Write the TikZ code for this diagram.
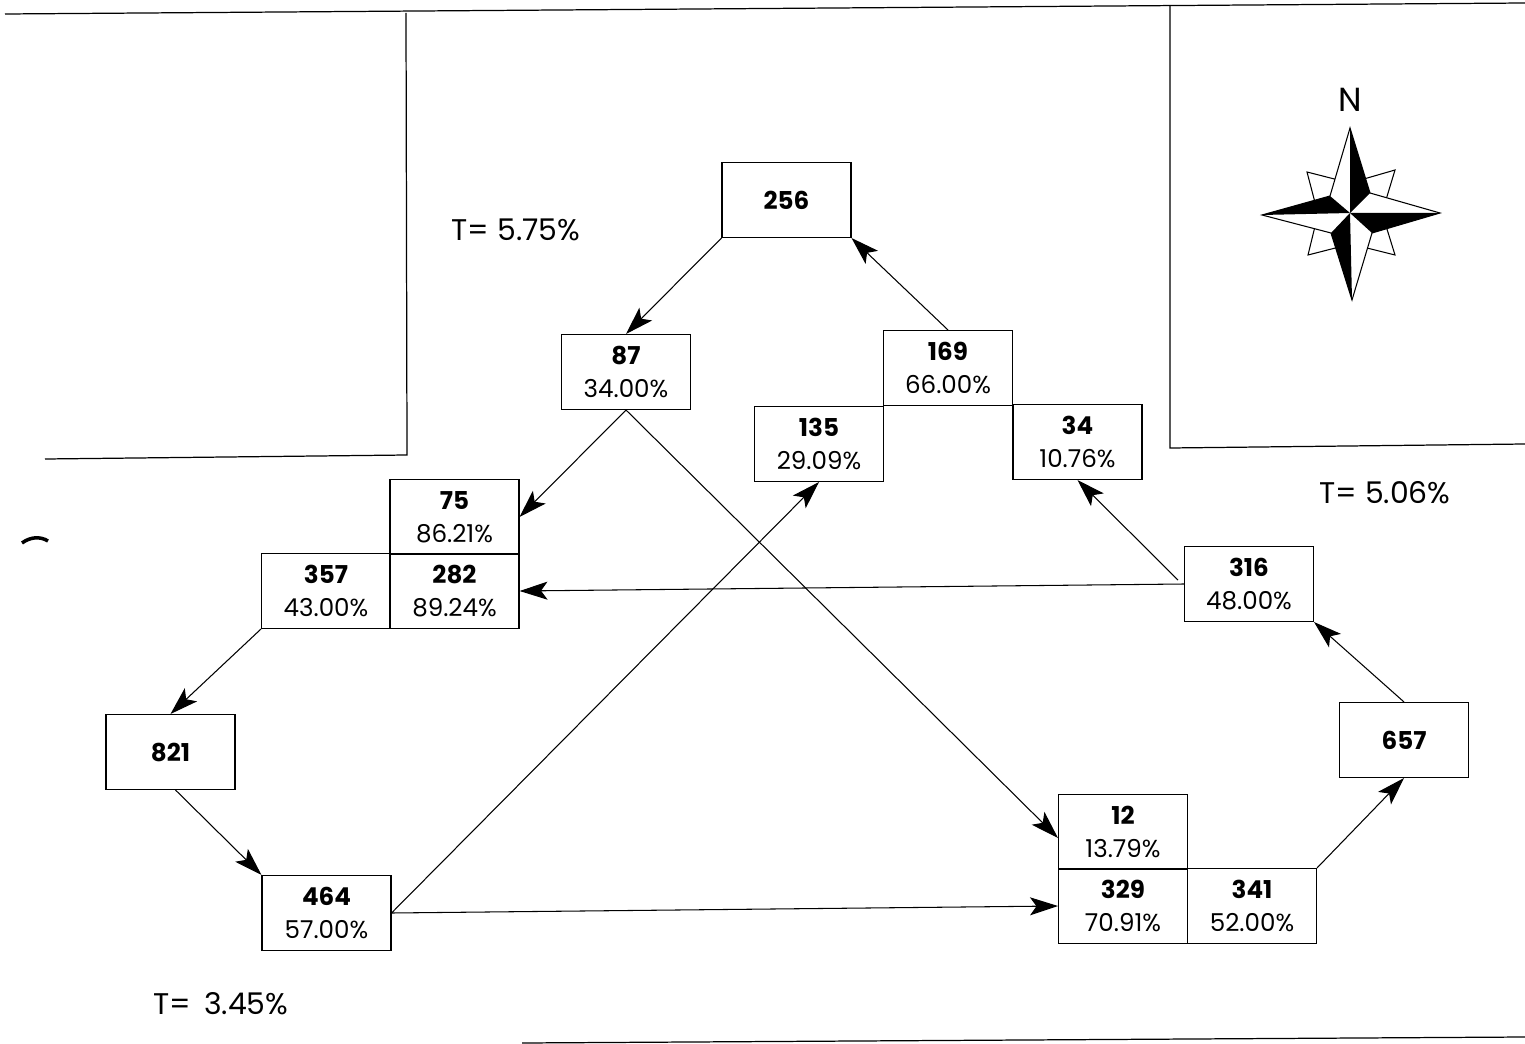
\documentclass[tikz,border=0pt]{standalone}
\usepackage{fontspec}
\setmainfont{Poppins}
\usepackage{tikz}
\usetikzlibrary{arrows.meta,calc}
\tikzset{
  cell/.style={draw,line width=0.6pt,minimum width=2.58cm,minimum height=1.5cm,
    inner sep=0pt,align=center,font=\fontsize{14}{18.8}\selectfont},
  flow/.style={line width=0.6pt,-{Stealth[length=0.56cm,width=0.36cm,inset=0.13cm]}},
  frame/.style={line width=0.7pt},
  tlab/.style={font=\fontsize{17}{20}\selectfont}
}
\begin{document}
\begin{tikzpicture}[x=0.02cm,y=-0.02cm]
  \useasboundingbox (0,0) rectangle (1525,1044);
  \draw[frame] (5,14) -- (1525,3);
  \draw[frame] (406,13) -- (407,455) -- (45,459);
  \draw[frame] (1170,6) -- (1170,448) -- (1525,444);
  \draw[frame] (522,1043) -- (1525,1037);
  \draw[line width=2pt] (22,543) .. controls (30,537) and (40,536) .. (48,541);

  \node[cell] (b256) at (786.5,200) {\textbf{256}};
  \node[cell] (n87) at (626,372) {\textbf{87}\\34.00\%};
  \node[cell] (n169) at (948,368) {\textbf{169}\\66.00\%};
  \node[cell] (n135) at (819,444) {\textbf{135}\\29.09\%};
  \node[cell] (n34) at (1077.5,442) {\textbf{34}\\10.76\%};
  \node[cell] (n75) at (454.5,517) {\textbf{75}\\86.21\%};
  \node[cell] (n357) at (326,591) {\textbf{357}\\43.00\%};
  \node[cell] (n282) at (454.5,591) {\textbf{282}\\89.24\%};
  \node[cell] (b821) at (170.5,752) {\textbf{821}};
  \node[cell] (n464) at (326.5,913) {\textbf{464}\\57.00\%};
  \node[cell] (n12) at (1123,832) {\textbf{12}\\13.79\%};
  \node[cell] (n329) at (1123,906) {\textbf{329}\\70.91\%};
  \node[cell] (n341) at (1252,906) {\textbf{341}\\52.00\%};
  \node[cell] (n316) at (1249,584) {\textbf{316}\\48.00\%};
  \node[cell] (b657) at (1404,740) {\textbf{657}};

  \node[tlab] (tnw) at (516,230) {T= 5.75\%};
  \node[tlab] (tne) at (1385,493) {T= 5.06\%};
  \node[tlab] (tsw) at (221,1004) {T=\, 3.45\%};

  \draw[flow] (b256.south west) -- (n87.north);
  \draw[flow] (n169.north) -- (b256.south east);
  \draw[flow] (n87.south) -- (n75.east);
  \draw[flow] (n87.south) -- ($(n12.west)+(0,6)$);
  \draw[flow] (n316.west) -- (n282.east);
  \draw[flow] ($(n316.west)+(-6,-4)$) -- (n34.south);
  \draw[flow] (n357.south west) -- (b821.north);
  \draw[flow] ($(b821.south)+(5,0)$) -- (n464.north west);
  \draw[flow] (n464.east) -- (n135.south);
  \draw[flow] (n464.east) -- (n329.west);
  \draw[flow] (n341.north east) -- (b657.south);
  \draw[flow] (b657.north) -- (n316.south east);

  \node[font=\fontsize{19}{22}\selectfont] (north) at (1350,100) {N};
  \coordinate (c) at (1350,213);
  \draw[line width=0.6pt,fill=white] (1307,172) -- (1350,183) -- (1395,170) -- (1382,213)
    -- (1395,255) -- (1351,244) -- (1308,255) -- (1318,214) -- cycle;
  \draw[line width=0.6pt,fill=white] (1350,128) -- (1370,193) -- (1440,213) -- (1372,233)
    -- (1352,300) -- (1331,233) -- (1262,215) -- (1330,196) -- cycle;
  \fill (c) -- (1350,128) -- (1370,193) -- cycle;
  \fill (c) -- (1440,213) -- (1372,233) -- cycle;
  \fill (c) -- (1352,300) -- (1331,233) -- cycle;
  \fill (c) -- (1262,215) -- (1330,196) -- cycle;
\end{tikzpicture}
\end{document}
